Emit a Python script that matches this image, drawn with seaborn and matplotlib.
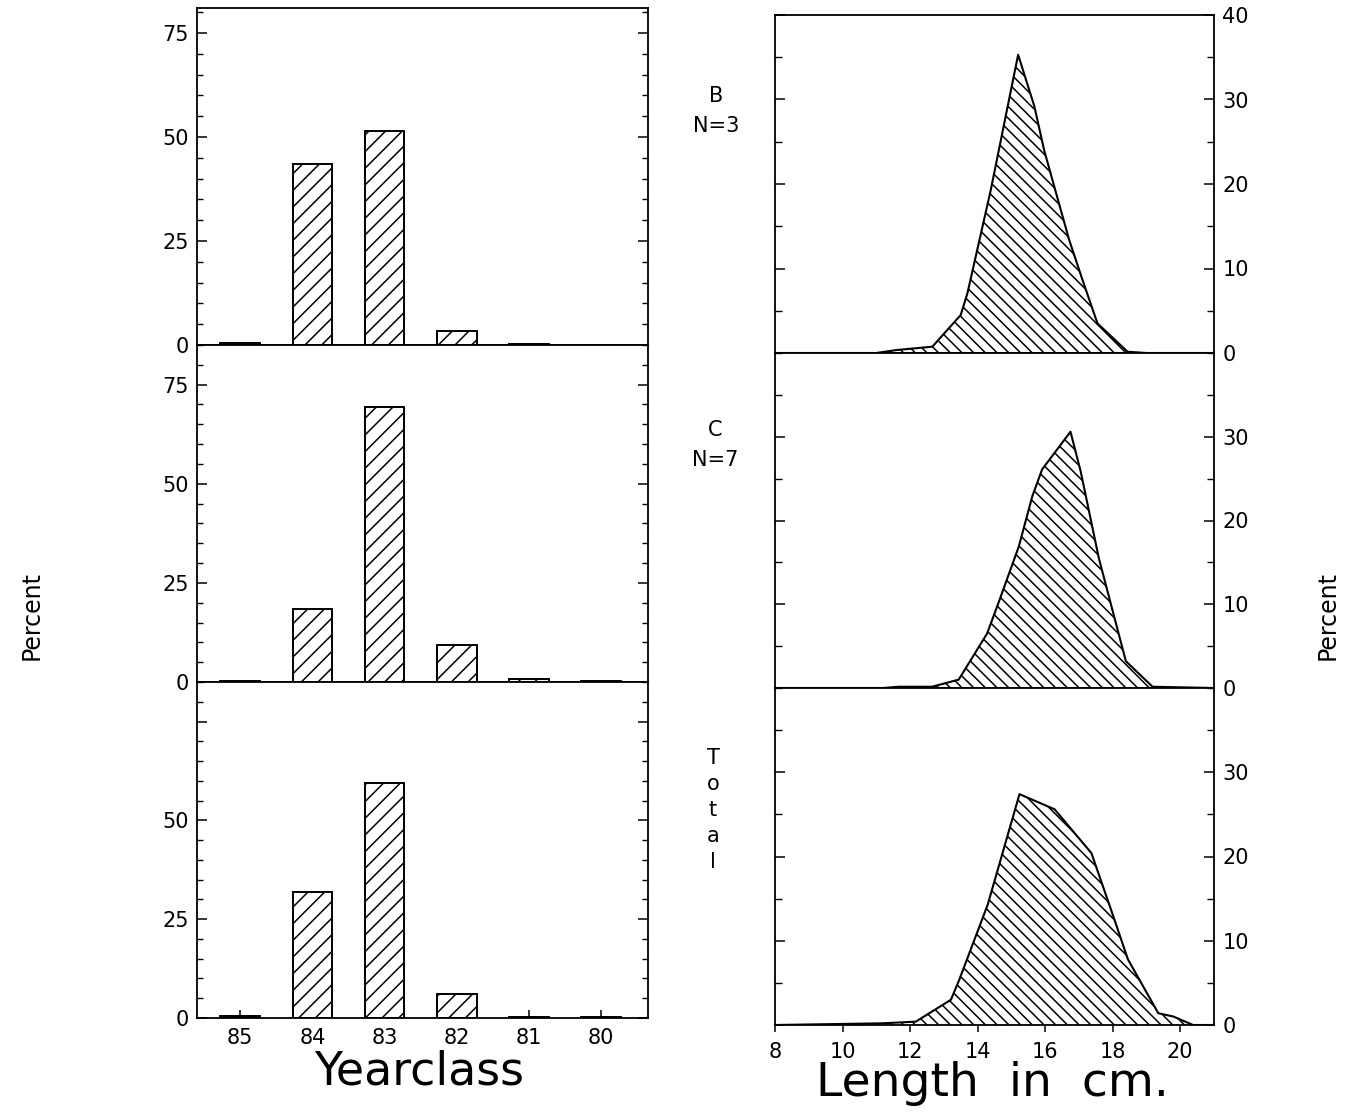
import numpy as np
import matplotlib
matplotlib.use("Agg")
import matplotlib.pyplot as plt
from matplotlib.collections import LineCollection
from matplotlib.ticker import MultipleLocator, FixedLocator
import seaborn as sns

# ---- age composition (percent by yearclass) ----
yearclasses = ["85", "84", "83", "82", "81", "80"]
pct_b = [0.5, 43.5, 51.5, 3.4, 0.2, 0.1]
pct_c = [0.3, 18.4, 69.4, 9.3, 0.8, 0.3]
pct_total = [0.5, 32.0, 59.4, 6.1, 0.3, 0.2]

# ---- length distributions (percent by length, cm) ----
len_b = [8.0, 11.0, 11.6, 12.66, 13.5, 13.7, 14.39, 15.2, 15.68, 15.97, 16.71, 17.11, 17.55, 18.44, 19.0, 21.0]
freq_b = [0.0, 0.0, 0.35, 0.75, 4.5, 7.1, 19.3, 35.3, 29.2, 24.0, 13.4, 8.6, 3.5, 0.15, 0.0, 0.0]

len_c = [8.0, 11.2, 11.66, 12.65, 13.44, 14.28, 14.63, 15.22, 15.62, 15.91, 16.75, 17.05, 17.59, 18.39, 19.18, 21.0]
freq_c = [0.0, 0.0, 0.15, 0.15, 1.0, 6.5, 10.3, 16.9, 22.9, 26.1, 30.6, 25.9, 15.5, 3.2, 0.15, 0.0]

len_total = [8.0, 11.18, 12.17, 13.21, 13.46, 14.30, 15.24, 16.28, 17.37, 18.01, 18.45, 19.35, 19.8, 20.38, 21.0]
freq_total = [0.0, 0.2, 0.4, 3.0, 5.4, 14.3, 27.4, 25.6, 20.4, 13.0, 7.8, 1.4, 1.0, 0.0, 0.0]

group_labels = ["B\nN=3", "C\nN=7", "T\no\nt\na\nl"]

sns.set_style("white")
plt.rcParams["font.family"] = ["DejaVu Sans"]
plt.rcParams["hatch.linewidth"] = 1.1
plt.rcParams["axes.linewidth"] = 1.3
for key in ("text.color", "axes.labelcolor", "xtick.color", "ytick.color",
            "axes.edgecolor", "xtick.labelcolor", "ytick.labelcolor"):
    plt.rcParams[key] = "black"

W_PX, H_PX = 1355, 1114
fig = plt.figure(figsize=(W_PX / 100, H_PX / 100), dpi=100)
fig.patch.set_facecolor("white")


def frac_box(x0, y_top, x1, y_bot):
    return [x0 / W_PX, 1 - y_bot / H_PX, (x1 - x0) / W_PX, (y_bot - y_top) / H_PX]


left_boxes = [frac_box(197, 8, 648, 345), frac_box(197, 345, 648, 682), frac_box(197, 682, 648, 1018)]
right_boxes = [frac_box(775, 15, 1214, 353), frac_box(775, 353, 1214, 688), frac_box(775, 688, 1214, 1025)]
left_ylims = [81, 85, 85]

pct_sets = [pct_b, pct_c, pct_total]
len_sets = [(len_b, freq_b), (len_c, freq_c), (len_total, freq_total)]

TICK = 15

# ---- left column: bar charts by yearclass ----
for i, (box, vals) in enumerate(zip(left_boxes, pct_sets)):
    ax = fig.add_axes(box)
    sns.barplot(x=yearclasses, y=vals, order=yearclasses, color="white", saturation=1,
                edgecolor="black", linewidth=1.4, width=0.55, hatch="//", errorbar=None, ax=ax)
    ax.set_xlim(-0.6, 5.65)
    ax.set_ylim(0, left_ylims[i])
    ax.set_xlabel("")
    ax.set_ylabel("")
    ax.yaxis.set_major_locator(FixedLocator([0, 25, 50, 75]))
    ax.yaxis.set_minor_locator(MultipleLocator(5))
    if i == 2:
        ax.set_yticklabels(["0", "25", "50", ""])
    ax.tick_params(axis="y", which="major", direction="in", length=7, width=1.1,
                   left=True, right=True, labelsize=TICK, pad=6)
    ax.tick_params(axis="y", which="minor", direction="in", length=4, width=1.0,
                   left=True, right=True)
    if i < 2:
        ax.tick_params(axis="x", bottom=False, labelbottom=False)
    else:
        ax.tick_params(axis="x", direction="in", length=6, width=1.1, bottom=True,
                       labelsize=TICK, pad=7)
    for sp in ax.spines.values():
        sp.set_color("black")
        sp.set_linewidth(1.3)

# ---- right column: length-frequency polygons ----
HATCH_STEP = 11.7
for i, (box, (xs, ys)) in enumerate(zip(right_boxes, len_sets)):
    ax = fig.add_axes(box)
    poly = ax.fill_between(xs, ys, 0, facecolor="white", edgecolor="none", zorder=1)
    sns.lineplot(x=xs, y=ys, color="black", linewidth=1.5, sort=False, legend=False,
                 ax=ax, zorder=3)
    ax.set_xlim(8, 21)
    ax.set_ylim(0, 40)

    # diagonal hatching clipped to the filled polygon
    wpx = box[2] * W_PX
    hpx = box[3] * H_PX
    segs = []
    for c in np.arange(0, wpx + hpx, HATCH_STEP):
        segs.append([((c - hpx) / wpx, 1.0), (c / wpx, 0.0)])
    lc = LineCollection(segs, colors="black", linewidths=1.1, transform=ax.transAxes, zorder=2)
    ax.add_collection(lc)
    lc.set_clip_path(poly.get_paths()[0], ax.transData)

    ax.set_xlabel("")
    ax.set_ylabel("")
    ax.yaxis.set_major_locator(FixedLocator([0, 10, 20, 30, 40] if i == 0 else [0, 10, 20, 30]))
    ax.yaxis.set_minor_locator(MultipleLocator(5))
    ax.tick_params(axis="y", which="major", direction="in", length=7, width=1.1,
                   left=True, right=True, labelleft=False, labelright=True,
                   labelsize=TICK, pad=6)
    ax.tick_params(axis="y", which="minor", direction="in", length=5, width=1.0,
                   left=True, right=True)
    if i < 2:
        ax.xaxis.set_major_locator(FixedLocator(np.round(np.arange(9.3, 19.5, 1.6), 1)))
        ax.tick_params(axis="x", direction="out", length=5, width=1.1, bottom=True,
                       labelbottom=False)
    else:
        ax.xaxis.set_major_locator(FixedLocator([8, 10, 12, 14, 16, 18, 20]))
        ax.tick_params(axis="x", direction="out", length=5, width=1.1, bottom=True,
                       labelsize=TICK, pad=7)
    for sp in ax.spines.values():
        sp.set_color("black")
        sp.set_linewidth(1.3)


def ftext(x, y, s, **kw):
    fig.text(x / W_PX, 1 - y / H_PX, s, ha="center", va="center", color="black", **kw)


# group labels between the columns
ftext(716, 111, group_labels[0], fontsize=TICK, linespacing=1.6)
ftext(715, 445, group_labels[1], fontsize=TICK, linespacing=1.6)
ftext(713, 810, group_labels[2], fontsize=TICK, linespacing=1.38)

# axis titles
ftext(32, 615, "Percent", fontsize=17, rotation=90)
ftext(1328, 615, "Percent", fontsize=17, rotation=90)
ftext(419, 1072, "Yearclass", fontsize=33)
ftext(992, 1083, "Length  in  cm.", fontsize=34)

fig.savefig("out.png", dpi=100, facecolor="white")
